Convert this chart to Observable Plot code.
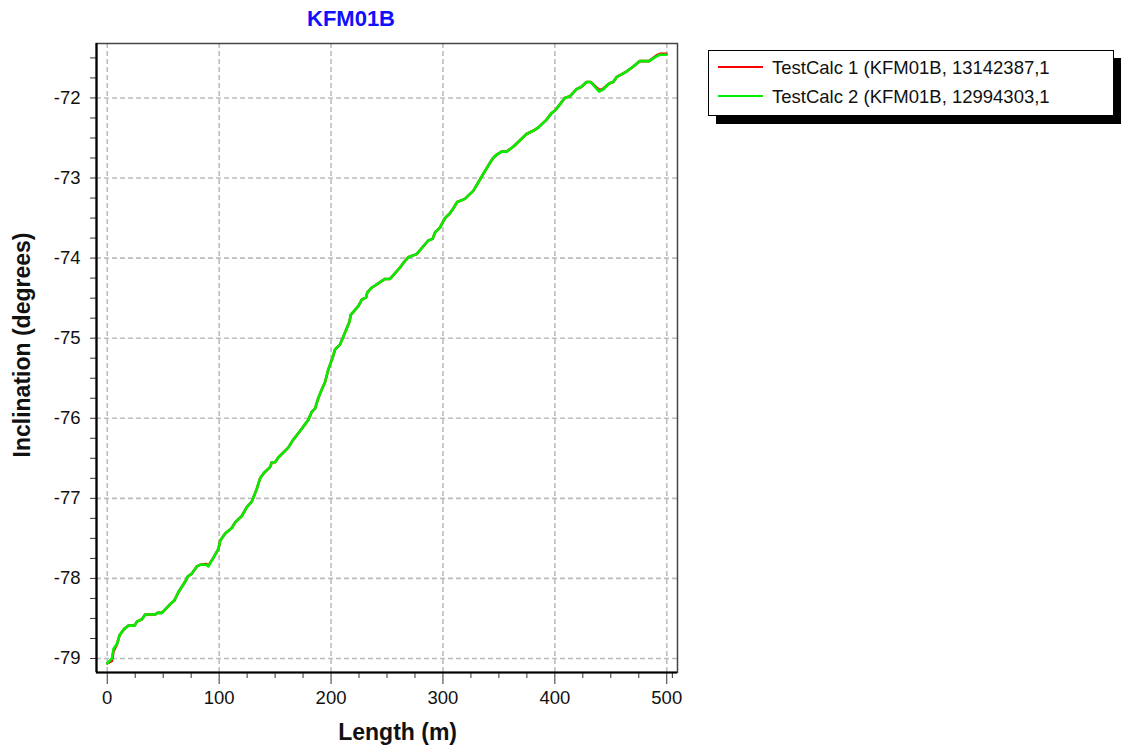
<!DOCTYPE html>
<html>
<head>
<meta charset="utf-8">
<script src="https://cdn.jsdelivr.net/npm/d3@7"></script>
<script src="https://cdn.jsdelivr.net/npm/@observablehq/plot@0.6"></script>
<style>
  body { margin: 0; background: #fff; font-family: "Liberation Sans", Arial, sans-serif; }
  #wrap { position: relative; width: 1121px; height: 749px; }
  #legend { position: absolute; left: 708px; top: 50px; width: 404px; height: 64px; border: 1px solid #000; background: #fff; box-shadow: 8px 8px 0 #000; }
  .entry { position: absolute; left: 9px; font-size: 18.5px; color: #111; white-space: nowrap; }
  .swatch { display: inline-block; width: 45px; height: 2px; vertical-align: middle; margin-right: 9px; position: relative; top: -2px; }
</style>
</head>
<body>
<div id="wrap">
  <div id="chart"></div>
  <div id="legend"></div>
</div>
<script>
const titleText = "KFM01B";
const xLabel = "Length (m)";
const yLabel = "Inclination (degrees)";
const seriesNames = ["TestCalc 1 (KFM01B, 13142387,1", "TestCalc 2 (KFM01B, 12994303,1"];
const seriesColors = ["#ff0000", "#00f000"];

const xTicks = [0, 100, 200, 300, 400, 500];
const xMinor = [25, 50, 75, 125, 150, 175, 225, 250, 275, 325, 350, 375, 425, 450, 475, 505];
const yTicks = [-79, -78, -77, -76, -75, -74, -73, -72];
const yMinor = [-78.75, -78.5, -78.25, -77.75, -77.5, -77.25, -76.75, -76.5, -76.25, -75.75, -75.5, -75.25, -74.75, -74.5, -74.25, -73.75, -73.5, -73.25, -72.75, -72.5, -72.25, -71.75, -71.5];

const lengths = [0, 4.2, 5.6, 8.7, 11.0, 15.2, 19.0, 24.4, 26.5, 31.0, 33.9, 42.9, 44.9, 48.8, 56.3, 59.8, 63.7, 70.5, 71.7, 75.6, 80.1, 83.0, 88.4, 90.4, 94.9, 99.4, 100.9, 105.4, 111.3, 114.3, 120.3, 124.7, 129.2, 133.7, 136.6, 140.2, 145.5, 147.1, 150.0, 152.9, 161.6, 166.1, 172.3, 179.7, 182.8, 185.7, 188.8, 191.7, 194.6, 197.6, 201.5, 203.6, 208.0, 212.5, 216.3, 217.6, 224.4, 227.4, 231.3, 232.4, 236.3, 242.9, 248.2, 252.7, 261.6, 264.6, 269.0, 276.5, 286.9, 290.8, 292.9, 297.3, 301.8, 306.3, 309.2, 312.8, 319.6, 322.6, 327.1, 336.0, 342.0, 344.9, 347.9, 352.4, 356.9, 362.8, 374.7, 380.6, 385.1, 392.6, 397.1, 400.0, 404.5, 408.9, 413.4, 419.4, 423.8, 428.3, 431.9, 439.6, 442.6, 448.5, 452.1, 455.1, 464.0, 469.9, 475.9, 484.2, 490.8, 493.8, 499.7];

const calc2 = [-79.06, -79.00, -78.88, -78.82, -78.71, -78.63, -78.59, -78.59, -78.54, -78.51, -78.45, -78.45, -78.43, -78.43, -78.32, -78.28, -78.17, -78.02, -77.98, -77.94, -77.85, -77.83, -77.83, -77.85, -77.74, -77.63, -77.53, -77.44, -77.37, -77.30, -77.22, -77.11, -77.04, -76.88, -76.75, -76.68, -76.61, -76.55, -76.55, -76.49, -76.37, -76.27, -76.16, -76.02, -75.92, -75.88, -75.74, -75.64, -75.55, -75.39, -75.24, -75.14, -75.08, -74.93, -74.80, -74.71, -74.60, -74.52, -74.49, -74.43, -74.37, -74.31, -74.26, -74.26, -74.12, -74.06, -73.99, -73.95, -73.78, -73.76, -73.68, -73.62, -73.50, -73.44, -73.38, -73.30, -73.26, -73.22, -73.16, -72.95, -72.81, -72.75, -72.71, -72.67, -72.67, -72.61, -72.45, -72.41, -72.37, -72.27, -72.19, -72.16, -72.08, -72.00, -71.98, -71.89, -71.86, -71.80, -71.80, -71.92, -71.90, -71.82, -71.80, -71.74, -71.67, -71.61, -71.54, -71.54, -71.48, -71.46, -71.46];

const calc1 = [-79.06, -79.03, -78.91, -78.82, -78.71, -78.63, -78.59, -78.59, -78.54, -78.51, -78.45, -78.45, -78.43, -78.43, -78.32, -78.28, -78.17, -78.02, -77.98, -77.94, -77.85, -77.83, -77.82, -77.84, -77.74, -77.63, -77.53, -77.44, -77.37, -77.30, -77.22, -77.11, -77.04, -76.88, -76.75, -76.68, -76.61, -76.55, -76.55, -76.49, -76.37, -76.27, -76.16, -76.02, -75.92, -75.88, -75.74, -75.64, -75.55, -75.39, -75.24, -75.14, -75.08, -74.93, -74.80, -74.71, -74.60, -74.52, -74.49, -74.43, -74.37, -74.31, -74.26, -74.26, -74.12, -74.06, -73.99, -73.95, -73.78, -73.76, -73.68, -73.62, -73.50, -73.44, -73.38, -73.30, -73.26, -73.22, -73.16, -72.95, -72.81, -72.75, -72.71, -72.67, -72.67, -72.61, -72.45, -72.41, -72.37, -72.27, -72.19, -72.16, -72.08, -72.00, -71.98, -71.89, -71.86, -71.80, -71.80, -71.90, -71.89, -71.82, -71.80, -71.74, -71.67, -71.61, -71.54, -71.54, -71.47, -71.45, -71.45];

const d1 = lengths.map((x, i) => ({x, y: calc1[i]}));
const d2 = lengths.map((x, i) => ({x, y: calc2[i]}));

const xDom = [-9.6, 509.6];
const yDom = [-79.175, -71.32];
const fmt = d => String(d);

const chart = Plot.plot({
  width: 1121,
  height: 749,
  marginLeft: 96,
  marginRight: 444,
  marginTop: 43,
  marginBottom: 77,
  style: {fontFamily: "'Liberation Sans', Arial, sans-serif", fontSize: "18.5px", color: "#111", background: "#fff", overflow: "visible"},
  x: {domain: xDom, label: null},
  y: {domain: yDom, label: null},
  marks: [
    Plot.gridX(xTicks, {stroke: "#bdbdbd", strokeOpacity: 1, strokeWidth: 1.6, strokeDasharray: "5,3"}),
    Plot.gridY(yTicks, {stroke: "#bdbdbd", strokeOpacity: 1, strokeWidth: 1.6, strokeDasharray: "5,3"}),
    Plot.axisX(xMinor, {tickSize: 6, tickFormat: () => "", label: null, stroke: "#333"}),
    Plot.axisX(xTicks, {tickSize: 12, tickPadding: 6, tickFormat: fmt, label: null, fontSize: 18.5, stroke: "#333"}),
    Plot.axisY(yMinor, {tickSize: 6, tickFormat: () => "", label: null, stroke: "#333"}),
    Plot.axisY(yTicks, {tickSize: 6, tickPadding: 10, tickFormat: fmt, label: null, fontSize: 18.5, stroke: "#333"}),
    Plot.frame({stroke: "#444", strokeWidth: 1.5}),
    Plot.ruleX([xDom[0]], {stroke: "#000", strokeWidth: 2.2}),
    Plot.ruleY([yDom[0]], {stroke: "#000", strokeWidth: 2.2}),
    Plot.line(d1, {x: "x", y: "y", stroke: seriesColors[0], strokeWidth: 2.6}),
    Plot.line(d2, {x: "x", y: "y", stroke: seriesColors[1], strokeWidth: 2.6}),
    Plot.text([titleText], {frameAnchor: "top", dx: -36, dy: -25, lineAnchor: "middle", fill: "#1010ff", fontWeight: "bold", fontSize: 22}),
    Plot.text([xLabel], {frameAnchor: "bottom", dx: 10.6, dy: 60, lineAnchor: "middle", fill: "#111", fontWeight: "bold", fontSize: 23}),
    Plot.text([yLabel], {frameAnchor: "left", dx: -74, dy: -13, rotate: -90, lineAnchor: "middle", textAnchor: "middle", fill: "#111", fontWeight: "bold", fontSize: 23})
  ]
});
document.getElementById("chart").appendChild(chart);

const legend = document.getElementById("legend");
seriesNames.forEach((name, i) => {
  const e = document.createElement("div");
  e.className = "entry";
  e.style.top = (i === 0 ? 6 : 35) + "px";
  const s = document.createElement("span");
  s.className = "swatch";
  s.style.background = seriesColors[i];
  e.appendChild(s);
  e.appendChild(document.createTextNode(name));
  legend.appendChild(e);
});
</script>
</body>
</html>
